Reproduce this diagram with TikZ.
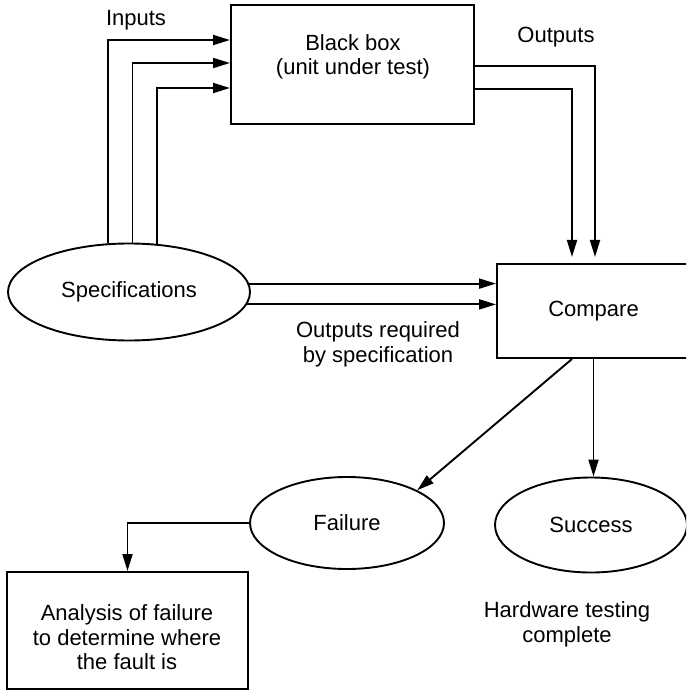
\documentclass[tikz,border=0pt]{standalone}
\usepackage{fontspec}
\setmainfont{Liberation Sans}
\usetikzlibrary{shapes.geometric,arrows.meta}
\begin{document}
\begin{tikzpicture}[x=1pt,y=-1pt,
  every node/.style={font=\fontsize{22}{24.5}\selectfont, inner sep=0pt},
  box/.style={draw, line width=2pt, rectangle},
  oval/.style={draw, line width=1.9pt, ellipse},
  txt/.style={align=center},
  arr/.style={line width=1.9pt, -{Triangle[length=17pt,width=10pt]}},
  ]
\useasboundingbox (0,0) rectangle (686,692);
\clip (0,0) rectangle (686,692);

% nodes
\node[box, minimum width=243pt, minimum height=119pt] (bb) at (352.5,64.5) {};
\node[txt] (bbt) at (353,57) {Black box\\(unit under test)};
\node[oval, minimum width=242pt, minimum height=97pt] (spec) at (129,292) {Specifications};
\node[box, minimum width=193pt, minimum height=94pt] (cmp) at (593.5,311) {Compare};
\node[oval, minimum width=194pt, minimum height=92pt] (fail) at (347,523) {Failure};
\node[oval, minimum width=192pt, minimum height=95pt] (succ) at (591,525) {Success};
\node[box, minimum width=241pt, minimum height=117pt] (anal) at (127.5,630.5) {};
\node[txt] (analt) at (127,637.5) {Analysis of failure\\to determine where\\the fault is};

% labels
\node (lin) at (136,20) {Inputs};
\node (lout) at (556,37) {Outputs};
\node[txt] (lreq) at (378,344.5) {Outputs required\\by specification};
\node[txt] (lhw) at (567,624.5) {Hardware testing\\complete};

% inputs
\draw[arr] (spec.113.7) |- ([yshift=24.5pt]bb.west);
\draw[arr] (spec.86.5) |- ([yshift=1.5pt]bb.west);
\draw[arr] (spec.60.3) |- ([yshift=-23.5pt]bb.west);

% outputs
\draw[arr, shorten >=6pt] ([yshift=-1.5pt]bb.east) -| ([xshift=1.5pt]cmp.north);
\draw[arr, shorten >=6pt] ([yshift=-24.5pt]bb.east) -| ([xshift=-21.5pt]cmp.north);

% required outputs
\draw[arr] (spec.4.3) -- (spec.4.3 -| cmp.west);
\draw[arr] (spec.-6.4) -- (spec.-6.4 -| cmp.west);

% results
\draw[arr] ([xshift=-21.5pt]cmp.south) -- (fail.25);
\draw[arr] (cmp.south) -- (cmp.south |- succ.north);
\draw[arr] (fail.west) -| (anal.north);
\end{tikzpicture}
\end{document}
